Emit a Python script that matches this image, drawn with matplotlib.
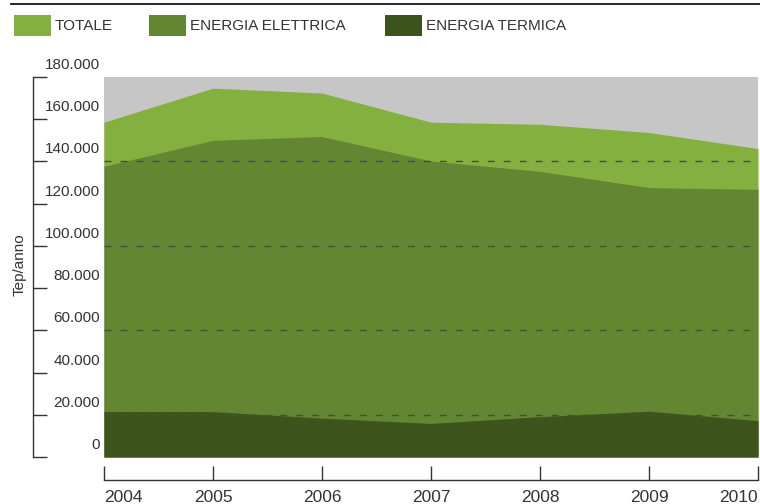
import matplotlib.pyplot as plt
from matplotlib.lines import Line2D
from matplotlib.patches import Rectangle

plt.rcParams['font.family'] = ['Liberation Sans', 'DejaVu Sans']

years = [2004, 2005, 2006, 2007, 2008, 2009, 2010]
totale = [158600, 174700, 172400, 158600, 157600, 153700, 146100]
elettrica = [137700, 150000, 151800, 140200, 135300, 127600, 126800]
termica = [21500, 21500, 18400, 15900, 19100, 21700, 17200]

names = ["TOTALE", "ENERGIA ELETTRICA", "ENERGIA TERMICA"]
colors = ["#84b03f", "#628632", "#3d541c"]
values = [totale, elettrica, termica]

y_ticks = list(range(0, 180001, 20000))
grid_levels = [20000, 60000, 100000, 140000]

W, H = 760, 504
text_col = "#333333"

fig = plt.figure(figsize=(W / 100, H / 100), dpi=100)
ax = fig.add_axes([104 / W, (H - 457) / H, (758 - 104) / W, (457 - 77) / H])
ax.set_facecolor("#c6c6c6")

for vals, col in zip(values, colors):
    ax.fill_between(years, 0, vals, color=col, lw=0)

for lvl in grid_levels:
    ax.axhline(lvl, color="#4a4a4a", lw=1, dashes=(5, 6.5))

ax.set_xlim(2004, 2010)
ax.set_ylim(0, 180000)

for s in ["top", "right"]:
    ax.spines[s].set_visible(False)
ax.spines["left"].set_position(("outward", 71 * 0.72))
ax.spines["bottom"].set_position(("outward", 23 * 0.72))
for s in ["left", "bottom"]:
    ax.spines[s].set_color(text_col)
    ax.spines[s].set_linewidth(1)

ax.set_yticks(y_ticks)
ax.tick_params(axis="y", direction="in", length=10, width=1, color=text_col, labelleft=False)
for v in y_ticks:
    ax.annotate(f"{v:,}".replace(",", "."), xy=(0, v), xycoords=ax.get_yaxis_transform(),
                xytext=(-3, 8.6), textcoords="offset points", ha="right", va="center",
                fontsize=11, color=text_col)

ax.set_xticks(years, [str(y) for y in years])
ax.tick_params(axis="x", direction="in", length=10, width=1, color=text_col, pad=7,
               labelsize=12.5, labelcolor=text_col)
xl = ax.get_xticklabels()
xl[0].set_horizontalalignment("left")
xl[-1].set_horizontalalignment("right")

fig.text(20 / W, 1 - 265 / H, "Tep/anno", rotation=90, ha="center", va="center",
         fontsize=11, color=text_col)

# top rule and legend
fig.add_artist(Line2D([11 / W, 1], [1 - 3.5 / H] * 2, color="black", lw=1.2))
for x0, name, col in zip([14, 149, 385], names, colors):
    fig.add_artist(Rectangle((x0 / W, 1 - 36 / H), 37 / W, 21 / H, color=col, lw=0))
    fig.text((x0 + 41) / W, 1 - 25.5 / H, name, ha="left", va="center",
             fontsize=11, color=text_col)

fig.savefig("out.png", dpi=100)
